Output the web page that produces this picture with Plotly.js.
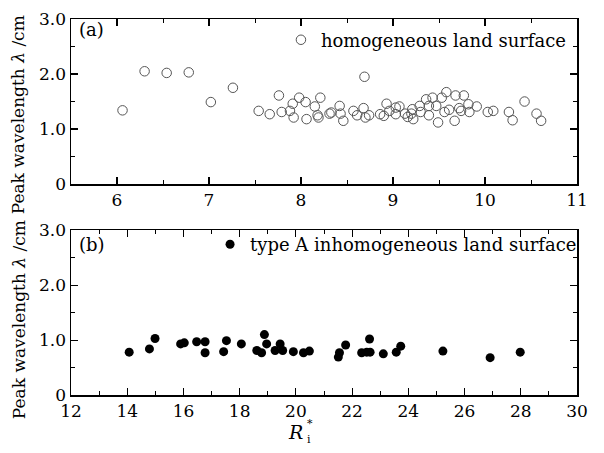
<!DOCTYPE html>
<html>
<head>
<meta charset="utf-8">
<script src="https://cdn.plot.ly/plotly-3.0.1.min.js"></script>
<style>html,body{margin:0;padding:0;background:#fff;}#chart{width:604px;height:453px;}</style>
</head>
<body>
<div id="chart"></div>
<script>
// Panel (a): homogeneous land surface
var homoX = [6.06, 6.30, 6.54, 6.78, 7.02, 7.26, 7.54, 7.66, 7.76, 7.79, 7.88, 7.91, 7.92, 7.98, 8.05, 8.06, 8.15, 8.18, 8.19, 8.21, 8.31, 8.33, 8.42, 8.43, 8.46, 8.57, 8.61, 8.69, 8.68, 8.70, 8.74, 8.86, 8.90, 8.93, 8.96, 9.03, 9.03, 9.07, 9.13, 9.16, 9.21, 9.22, 9.20, 9.29, 9.30, 9.36, 9.39, 9.39, 9.43, 9.47, 9.49, 9.53, 9.56, 9.58, 9.61, 9.67, 9.68, 9.72, 9.74, 9.77, 9.82, 9.83, 9.91, 10.03, 10.09, 10.26, 10.30, 10.43, 10.56, 10.61];
var homoY = [1.34, 2.05, 2.02, 2.03, 1.49, 1.75, 1.33, 1.27, 1.61, 1.31, 1.33, 1.46, 1.21, 1.57, 1.49, 1.18, 1.41, 1.25, 1.21, 1.57, 1.28, 1.30, 1.42, 1.28, 1.15, 1.33, 1.25, 1.95, 1.38, 1.21, 1.25, 1.27, 1.24, 1.46, 1.33, 1.39, 1.27, 1.41, 1.28, 1.22, 1.36, 1.18, 1.28, 1.42, 1.31, 1.54, 1.25, 1.42, 1.57, 1.42, 1.12, 1.57, 1.31, 1.67, 1.35, 1.15, 1.61, 1.38, 1.33, 1.61, 1.45, 1.31, 1.41, 1.31, 1.33, 1.31, 1.16, 1.50, 1.28, 1.15];
// Panel (b): type A inhomogeneous land surface
var inhoX = [14.07, 14.79, 14.99, 15.90, 16.03, 16.47, 16.77, 16.77, 17.53, 17.43, 18.06, 18.61, 18.78, 18.88, 18.96, 19.26, 19.44, 19.53, 19.91, 20.27, 20.48, 21.51, 21.55, 21.77, 22.34, 22.52, 22.62, 22.64, 23.11, 23.57, 23.73, 25.23, 26.91, 27.98];
var inhoY = [0.78, 0.84, 1.03, 0.93, 0.95, 0.97, 0.97, 0.77, 0.99, 0.79, 0.93, 0.81, 0.77, 1.10, 0.93, 0.81, 0.93, 0.81, 0.79, 0.77, 0.80, 0.69, 0.77, 0.91, 0.77, 0.78, 1.02, 0.78, 0.75, 0.78, 0.89, 0.80, 0.68, 0.78];

var yTickVals = [0, 1, 2, 3];
var yTickText = ["0", "1.0", "2.0", "3.0"];
var topXTicks = [6, 7, 8, 9, 10, 11];
var botXTicks = [12, 14, 16, 18, 20, 22, 24, 26, 28, 30];

var FONT = "DejaVu Serif, Liberation Serif, serif";

var traces = [
  {x: homoX, y: homoY, xaxis: 'x', yaxis: 'y', type: 'scatter', mode: 'markers',
   name: 'homogeneous land surface', legend: 'legend',
   marker: {symbol: 'circle-open', size: 9.5, color: '#555', line: {width: 1, color: '#555'}}},
  {x: inhoX, y: inhoY, xaxis: 'x2', yaxis: 'y2', type: 'scatter', mode: 'markers',
   name: 'type A inhomogeneous land surface', legend: 'legend2',
   marker: {symbol: 'circle', size: 9, color: '#000'}}
];

function minorTicks(d) {
  return {ticks: 'inside', ticklen: 4, tickwidth: 1, tickcolor: '#000', dtick: d, tick0: 0};
}
function axisBase() {
  return {
    showline: true, linecolor: '#000', linewidth: 1.5, mirror: 'ticks',
    ticks: 'inside', ticklen: 7, tickwidth: 1.2, tickcolor: '#000',
    showgrid: false, zeroline: false,
    tickfont: {family: FONT, size: 17, color: '#000'}
  };
}

var xa = Object.assign(axisBase(), {range: [5.5, 11], tickvals: topXTicks, anchor: 'y', domain: [0, 1], minor: minorTicks(0.5)});
var ya = Object.assign(axisBase(), {range: [0, 3], tickvals: yTickVals, ticktext: yTickText, anchor: 'x', domain: [0.561, 1], minor: minorTicks(0.5)});
var xa2 = Object.assign(axisBase(), {range: [12, 30], tickvals: botXTicks, anchor: 'y2', domain: [0, 1], minor: minorTicks(1)});
var ya2 = Object.assign(axisBase(), {range: [0, 3], tickvals: yTickVals, ticktext: yTickText, anchor: 'x2', domain: [0, 0.438], minor: minorTicks(0.5)});

var layout = {
  width: 604, height: 453,
  margin: {l: 71, r: 27, t: 19, b: 57.5},
  paper_bgcolor: '#fff', plot_bgcolor: '#fff',
  font: {family: FONT, size: 17, color: '#000'},
  showlegend: true,
  xaxis: xa, yaxis: ya, xaxis2: xa2, yaxis2: ya2,
  legend: {x: 0.99, xanchor: 'right', y: 0.944, yanchor: 'middle', bgcolor: 'rgba(0,0,0,0)',
           font: {family: FONT, size: 18, color: '#000'}, itemwidth: 30},
  legend2: {x: 1.01, xanchor: 'right', y: 0.40, yanchor: 'middle', bgcolor: 'rgba(0,0,0,0)',
            font: {family: FONT, size: 18, color: '#000'}, itemwidth: 30},
  annotations: [
    {text: '(a)', xref: 'paper', yref: 'paper', x: 0.012, y: 0.971, xanchor: 'left', yanchor: 'middle', showarrow: false, font: {family: FONT, size: 18}},
    {text: '(b)', xref: 'paper', yref: 'paper', x: 0.012, y: 0.40, xanchor: 'left', yanchor: 'middle', showarrow: false, font: {family: FONT, size: 18}},
    {text: 'Peak wavelength <i>λ</i> /cm', xref: 'paper', yref: 'paper', x: -0.104, y: 0.745, xanchor: 'center', yanchor: 'middle', textangle: -90, showarrow: false, font: {family: FONT, size: 17}},
    {text: 'Peak wavelength <i>λ</i> /cm', xref: 'paper', yref: 'paper', x: -0.104, y: 0.20, xanchor: 'center', yanchor: 'middle', textangle: -90, showarrow: false, font: {family: FONT, size: 17}},
    {text: '<i>R</i>', xref: 'paper', yref: 'paper', x: 0.462, y: -0.098, xanchor: 'right', yanchor: 'middle', showarrow: false, font: {family: FONT, size: 19}},
    {text: '*', xref: 'paper', yref: 'paper', x: 0.463, y: -0.075, xanchor: 'left', yanchor: 'middle', showarrow: false, font: {family: FONT, size: 11}},
    {text: 'i', xref: 'paper', yref: 'paper', x: 0.463, y: -0.118, xanchor: 'left', yanchor: 'middle', showarrow: false, font: {family: FONT, size: 11}}
  ]
};

Plotly.newPlot('chart', traces, layout, {staticPlot: true, displayModeBar: false});
</script>
</body>
</html>
